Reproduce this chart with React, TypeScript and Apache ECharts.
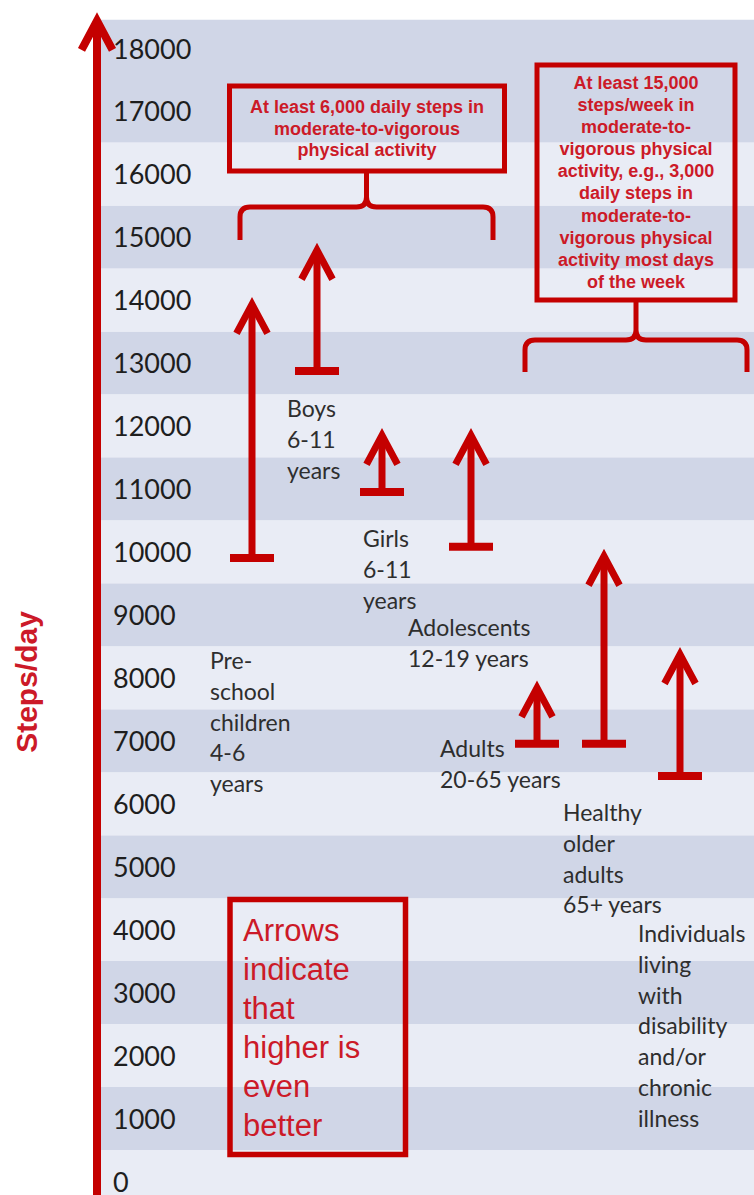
import React, { useEffect, useRef } from "react";
import * as echarts from "echarts";

// ---- data ----
const Y_MIN = 0;
const Y_MAX = 18000;
const Y_INTERVAL = 1000;

// horizontal positions of the arrows (units from the axis line)
const ARROW_X = [155, 220, 285, 374, 440, 507, 583];
// starting (base) value of each recommendation, steps/day
const ARROW_FROM = [9900, 12870, 10950, 10080, 6950, 6950, 6440];
// arrow tip value, steps/day
const ARROW_TO = [14050, 14910, 11970, 11970, 7960, 10050, 8490];

// alternating background bands [low, high, shade]
const BANDS: [number, number, number][] = [
  [-500, 500, 0], [500, 1500, 1], [1500, 2500, 0], [2500, 3500, 1],
  [3500, 4500, 0], [4500, 5500, 1], [5500, 6500, 0], [6500, 7500, 1],
  [7500, 8500, 0], [8500, 9500, 1], [9500, 10500, 0], [10500, 11500, 1],
  [11500, 12500, 0], [12500, 13500, 1], [13500, 14500, 0], [14500, 15500, 1],
  [15500, 16500, 0], [16500, 18450, 1],
];

const GROUP_LABELS = [
  { lines: ["Pre-", "school", "children", "4-6", "years"], x: 210, y: 660 },
  { lines: ["Boys", "6-11", "years"], x: 287, y: 408 },
  { lines: ["Girls", "6-11", "years"], x: 363, y: 538 },
  { lines: ["Adolescents", "12-19 years"], x: 408, y: 627 },
  { lines: ["Adults", "20-65 years"], x: 440, y: 748 },
  { lines: ["Healthy", "older", "adults", "65+ years"], x: 563, y: 812 },
  { lines: ["Individuals", "living", "with", "disability", "and/or", "chronic", "illness"], x: 638, y: 933 },
];

const BOX_LEFT_LINES = ["At least 6,000 daily steps in", "moderate-to-vigorous", "physical activity"];
const BOX_RIGHT_LINES = [
  "At least 15,000", "steps/week in", "moderate-to-", "vigorous physical",
  "activity, e.g., 3,000", "daily steps in", "moderate-to-", "vigorous physical",
  "activity most days", "of the week",
];
const NOTE_LINES = ["Arrows", "indicate", "that", "higher is", "even", "better"];
const Y_TITLE = "Steps/day";

// ---- styles ----
const RED = "#c40000";
const RED_TEXT = "#cc1a28";
const BAND_COLORS = ["#e9ecf5", "#d0d6e7"];
const LABEL_COLOR = "#2e2e2e";

function bracePath(hw: number, j: number, b: number, r: number) {
  return (
    `M0 0 L0 ${j - r} Q0 ${j} ${-r} ${j} L${-hw + r} ${j} Q${-hw} ${j} ${-hw} ${j + r} L${-hw} ${b} ` +
    `M0 ${j - r} Q0 ${j} ${r} ${j} L${hw - r} ${j} Q${hw} ${j} ${hw} ${j + r} L${hw} ${b}`
  );
}

let registered = false;
function registerShapes() {
  if (registered) return;
  registered = true;
  echarts.graphic.registerShape("braceLeft", echarts.graphic.extendPath(bracePath(126.5, 36, 69, 10), {}) as any);
  echarts.graphic.registerShape("braceRight", echarts.graphic.extendPath(bracePath(111, 40, 72, 10), {}) as any);
}

export default function App() {
  const ref = useRef<HTMLDivElement>(null);

  useEffect(() => {
    document.body.style.margin = "0";
    registerShapes();
    const chart = echarts.init(ref.current!, undefined, { renderer: "svg" });

    const arrowData: number[][] = ARROW_X.map((x, i) => [x, ARROW_FROM[i], ARROW_TO[i], 0]);
    arrowData.push([0, -300, 18570, 1]); // the axis itself

    const textEl = (
      lines: string[], x: number, yFirst: number, lh: number, opts: any
    ) => ({
      type: "text",
      x,
      y: yFirst - lh / 2,
      z: 10,
      style: {
        text: lines.join("\n"),
        lineHeight: lh,
        verticalAlign: "top",
        ...opts,
      },
    });

    const graphics: any[] = [];
    GROUP_LABELS.forEach((g) => {
      graphics.push(
        textEl(g.lines, g.x, g.y, 30.8, {
          align: "left",
          fontFamily: "Lato",
          fontSize: 23,
          fill: LABEL_COLOR,
        })
      );
    });
    // left recommendation box
    graphics.push({
      type: "rect", z: 10,
      shape: { x: 229.5, y: 86, width: 275, height: 85 },
      style: { fill: "none", stroke: RED, lineWidth: 5 },
    });
    graphics.push(
      textEl(BOX_LEFT_LINES, 367, 107, 21.5, {
        align: "center", fontFamily: "Liberation Sans", fontWeight: "bold", fontSize: 18, fill: RED_TEXT,
      })
    );
    graphics.push({
      type: "braceLeft", z: 10, x: 366.5, y: 171,
      style: { fill: "none", stroke: RED, lineWidth: 5 },
    });
    // right recommendation box
    graphics.push({
      type: "rect", z: 10,
      shape: { x: 537, y: 65, width: 198, height: 235 },
      style: { fill: "none", stroke: RED, lineWidth: 5 },
    });
    graphics.push(
      textEl(BOX_RIGHT_LINES, 636, 83, 22.1, {
        align: "center", fontFamily: "Liberation Sans", fontWeight: "bold", fontSize: 18, fill: RED_TEXT,
      })
    );
    graphics.push({
      type: "braceRight", z: 10, x: 636, y: 300,
      style: { fill: "none", stroke: RED, lineWidth: 5 },
    });
    // note box
    graphics.push({
      type: "rect", z: 10,
      shape: { x: 230, y: 899.5, width: 175.5, height: 255 },
      style: { fill: "none", stroke: RED, lineWidth: 5.5 },
    });
    graphics.push(
      textEl(NOTE_LINES, 243, 930, 39, {
        align: "left", fontFamily: "Liberation Sans", fontSize: 31, fill: RED_TEXT,
      })
    );
    // y axis title
    graphics.push({
      type: "text", z: 10, x: 26, y: 682, rotation: Math.PI / 2,
      style: {
        text: Y_TITLE, align: "center", verticalAlign: "middle",
        fontFamily: "Liberation Sans", fontWeight: "bold", fontSize: 30, fill: RED_TEXT,
      },
    });

    chart.setOption({
      animation: false,
      backgroundColor: "#ffffff",
      grid: { left: 97, right: 0, top: 48, bottom: 10 },
      xAxis: { type: "value", min: 0, max: 657, show: false },
      yAxis: {
        type: "value",
        min: Y_MIN,
        max: Y_MAX,
        interval: Y_INTERVAL,
        z: 5,
        axisLine: { show: false },
        axisTick: { show: false },
        splitLine: { show: false },
        axisLabel: {
          inside: true,
          margin: 16,
          fontFamily: "Lato",
          fontSize: 27,
          color: "#1e1e1e",
          showMinLabel: true,
          showMaxLabel: true,
          formatter: (v: number) => String(v),
        },
      },
      series: [
        {
          type: "custom",
          name: "bands",
          z: 0,
          clip: false,
          silent: true,
          data: BANDS,
          renderItem: (params: any, api: any) => {
            const lo = api.value(0);
            const hi = api.value(1);
            const shade = api.value(2);
            const p1 = api.coord([0, hi]);
            const p2 = api.coord([657, lo]);
            return {
              type: "rect",
              shape: { x: p1[0], y: p1[1], width: p2[0] - p1[0], height: p2[1] - p1[1] },
              style: { fill: BAND_COLORS[shade] },
            };
          },
        },
        {
          type: "custom",
          name: "arrows",
          z: 3,
          clip: false,
          silent: true,
          data: arrowData,
          renderItem: (params: any, api: any) => {
            const x = api.value(0);
            const from = api.value(1);
            const to = api.value(2);
            const kind = api.value(3);
            const base = api.coord([x, from]);
            const tip = api.coord([x, to]);
            const lw = kind === 1 ? 8 : 7;
            const vy = tip[1] + lw / (2 * 0.458);
            const children: any[] = [
              {
                type: "line",
                shape: { x1: base[0], y1: base[1], x2: base[0], y2: vy + 2 },
                style: { stroke: RED, lineWidth: lw },
              },
              {
                type: "polyline",
                shape: { points: [[tip[0] - 15.5, vy + 29], [tip[0], vy], [tip[0] + 15.5, vy + 29]] },
                style: { stroke: RED, lineWidth: lw, fill: "none", lineJoin: "miter" },
              },
            ];
            if (kind === 0) {
              children.push({
                type: "line",
                shape: { x1: base[0] - 22, y1: base[1], x2: base[0] + 22, y2: base[1] },
                style: { stroke: RED, lineWidth: 8 },
              });
            }
            return { type: "group", children };
          },
        },
      ],
      graphic: { elements: graphics },
    });

    return () => chart.dispose();
  }, []);

  return <div ref={ref} style={{ width: 754, height: 1195 }} />;
}
